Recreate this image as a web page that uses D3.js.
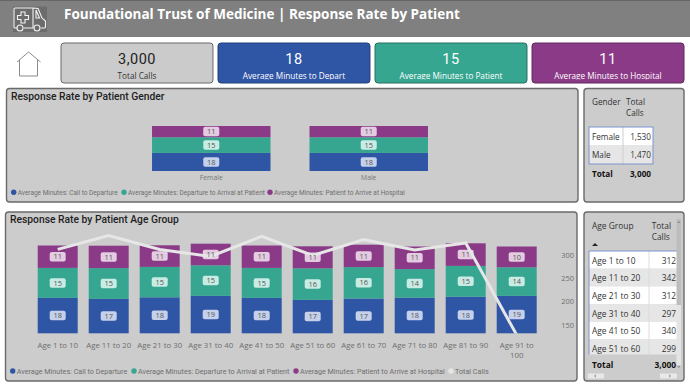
<!DOCTYPE html>
<html>
<head>
<meta charset="utf-8">
<script src="https://cdn.jsdelivr.net/npm/d3@7"></script>
<style>
    body { margin: 0; background: #fff; }
    text { font-family: "Open Sans", sans-serif; }
    .din { font-family: Roboto, sans-serif; }
</style>
</head>
<body>
<svg id="chart" width="690" height="388"></svg>
<script>
// card values
const cardValues = ["3,000", "18", "15", "11"];
const cardLabels = ["Total Calls", "Average Minutes to Depart", "Average Minutes to Patient", "Average Minutes to Hospital"];

// gender chart
const genders = ["Female", "Male"];
const genderCall = [17.7, 17.7];
const genderDeparture = [15.4, 15.4];
const genderPatient = [11, 11];
const genderCalls = ["1,530", "1,470"];

// age chart
const ageGroups = ["Age 1 to 10", "Age 11 to 20", "Age 21 to 30", "Age 31 to 40", "Age 41 to 50",
    "Age 51 to 60", "Age 61 to 70", "Age 71 to 80", "Age 81 to 90", "Age 91 to 100"];
const ageCall = [17.7, 17.2, 18, 18.7, 17.7, 16.7, 17.4, 17.8, 18.3, 18.7];
const ageDeparture = [15, 15.4, 15.2, 15.3, 15, 15.8, 15.7, 14.3, 15.4, 14.3];
const agePatient = [11.2, 11.2, 10.8, 10.8, 11.2, 11, 11.2, 11.3, 11.3, 10.4];
const ageTotalCalls = [312, 342, 312, 297, 340, 299, 333, 311, 326, 128];
const rightTicks = [150, 200, 250, 300];

const seriesNames = ["Average Minutes: Call to Departure", "Average Minutes: Departure to Arrival at Patient",
    "Average Minutes: Patient to Arrive at Hospital"];
const seriesColors = ["#2f55a5", "#36a690", "#8b3a87"];
const labelColors = ["#c5d0ea", "#c8ece3", "#e3cbe1"];

const svg = d3.select("#chart");

function panel(x, y, w, h) {
    svg.append("rect")
        .attr("x", x).attr("y", y).attr("width", w).attr("height", h).attr("rx", 3)
        .attr("fill", "#cccccc").attr("stroke", "#6a6a6a").attr("stroke-width", 1.4);
}

function drawHeader() {
    svg.append("rect").attr("width", 690).attr("height", 37).attr("fill", "#808080");
    svg.append("rect").attr("width", 690).attr("height", 1).attr("fill", "#666");

    svg.append("text")
        .attr("x", 64).attr("y", 19)
        .attr("fill", "#fff").attr("font-size", 13.5).attr("font-weight", 700)
        .text("Foundational Trust of Medicine | Response Rate by Patient");

    // ambulance icon
    const icon = svg.append("g").attr("fill", "none").attr("stroke", "#f2f2f2").attr("stroke-width", 1.1);
    svg.insert("rect", "g").attr("x", 13).attr("y", 6.5).attr("width", 34).attr("height", 25.5).attr("fill", "#6c6c6c");
    icon.append("path").attr("d", "M17 28H15Q14 28 14 27V9Q14 8 15 8H33L38 8.5L42 18L45.5 21V27Q45.5 28 44 28H41M33 8V28M24 28H33.5");
    icon.append("path").attr("d", "M36 10L39.5 18H36Z");
    icon.append("circle").attr("cx", 20).attr("cy", 28).attr("r", 3);
    icon.append("circle").attr("cx", 37).attr("cy", 28).attr("r", 3);
    icon.append("path").attr("d", "M21 12H25V15.5H28.5V19.5H25V23H21V19.5H17.5V15.5H21Z");

    // home button
    svg.append("path")
        .attr("d", "M17 62L28.5 52L40.5 62M19.5 60V76H37.5V60")
        .attr("fill", "#fff").attr("stroke", "#8a8a8a").attr("stroke-width", 1);
}

function drawCards() {
    const x = d3.scaleBand().domain(d3.range(4)).range([61, 684]).paddingInner(0.032);
    const fills = ["#cbcbcb", ...seriesColors];
    const strokes = ["#6a6a6a", "#24417e", "#27705f", "#5f2a5c"];
    const inks = ["#222", "#fff", "#fff", "#fff"];
    const defs = svg.append("defs");
    defs.append("clipPath").attr("id", "card-clip")
        .append("rect").attr("x", 0).attr("y", 43).attr("width", 690).attr("height", 36.5);

    cardValues.forEach((value, i) => {
        svg.append("rect")
            .attr("x", x(i)).attr("y", 43).attr("width", x.bandwidth()).attr("height", 40).attr("rx", 3)
            .attr("fill", fills[i]).attr("stroke", strokes[i]);
        svg.append("text").attr("class", "din")
            .attr("x", x(i) + x.bandwidth() / 2).attr("y", 64)
            .attr("text-anchor", "middle").attr("font-size", 14.5).attr("fill", inks[i])
            .attr("letter-spacing", 0.5).text(value);
        svg.append("text")
            .attr("x", x(i) + x.bandwidth() / 2).attr("y", 79)
            .attr("clip-path", "url(#card-clip)")
            .attr("text-anchor", "middle").attr("font-size", 8.2).attr("fill", i ? "#fff" : "#333")
            .text(cardLabels[i]);
    });
}

// puts one rounded label box on a segment
function drawBarLabels(layer, rows, x, y, boxH) {
    const boxW = 16;
    layer.selectAll("rect.lab").data(rows).enter().append("rect").attr("class", "lab")
        .attr("x", d => x(d.name) + x.bandwidth() / 2 - boxW / 2)
        .attr("y", d => y((d.y0 + d.y1) / 2) - boxH / 2)
        .attr("width", boxW).attr("height", boxH).attr("rx", 2)
        .attr("fill", d => labelColors[d.series]);
}

function drawBarLabelText(layer, rows, x, y) {
    layer.selectAll("text.lab").data(rows).enter().append("text").attr("class", "lab")
        .attr("x", d => x(d.name) + x.bandwidth() / 2)
        .attr("y", d => y((d.y0 + d.y1) / 2) + 2.6)
        .attr("text-anchor", "middle").attr("font-size", 7.4).attr("fill", "#555")
        .text(d => d3.format(".0f")(d.y1 - d.y0));
}

function stackRows(names, a, b, c) {
    const table = names.map((name, i) => ({ name, s0: a[i], s1: b[i], s2: c[i] }));
    const stacked = d3.stack().keys(["s0", "s1", "s2"])(table);
    return stacked.flatMap((layer, s) => layer.map(d => ({ name: d.data.name, series: s, y0: d[0], y1: d[1] })));
}

function drawLegend(items, colors, positions, y, size) {
    items.forEach((name, i) => {
        svg.append("circle").attr("cx", positions[i]).attr("cy", y).attr("r", 2.7).attr("fill", colors[i]);
        svg.append("text").attr("class", "din").attr("x", positions[i] + 4).attr("y", y + 2.5)
            .attr("font-size", size).attr("fill", "#6e6e6e").text(name);
    });
}

function drawGenderChart() {
    panel(6.5, 88.5, 571.5, 113.5);
    svg.append("text").attr("class", "din").attr("x", 11).attr("y", 99.5)
        .attr("font-size", 10.3).attr("font-weight", 500).attr("fill", "#222")
        .text("Response Rate by Patient Gender");

    const x = d3.scaleBand().domain(genders).range([132.5, 447.5]).paddingInner(0.2476).paddingOuter(0.124);
    const y = d3.scaleLinear().domain([0, 44.1]).range([171, 126]);
    const rows = stackRows(genders, genderCall, genderDeparture, genderPatient);

    svg.append("g").selectAll("rect").data(rows).enter().append("rect")
        .attr("x", d => x(d.name)).attr("y", d => y(d.y1))
        .attr("width", x.bandwidth()).attr("height", d => y(d.y0) - y(d.y1))
        .attr("fill", d => seriesColors[d.series]);

    const labels = svg.append("g");
    drawBarLabels(labels, rows, x, y, 9.5);
    drawBarLabelText(labels, rows, x, y);

    const axis = svg.append("g").attr("transform", "translate(0,171)")
        .call(d3.axisBottom(x).tickSize(0).tickPadding(4));
    axis.select(".domain").remove();
    axis.selectAll("text").attr("font-size", 6.8).attr("fill", "#777").style("font-family", "'Open Sans'");

    drawLegend(seriesNames, seriesColors, [13.7, 124, 270], 192.3, 6.5);
}

function drawAgeChart() {
    panel(5.5, 212, 571.5, 169);
    svg.append("text").attr("class", "din").attr("x", 10).attr("y", 223)
        .attr("font-size", 10.3).attr("font-weight", 500).attr("fill", "#222")
        .text("Response Rate by Patient Age Group");

    const x = d3.scaleBand().domain(ageGroups).range([32.2, 542.2]).paddingInner(0.216).paddingOuter(0.108);
    const y = d3.scaleLinear().domain([0, 44]).range([333.3, 245.3]);
    const yRight = d3.scaleLinear().domain([150, 300]).range([324.7, 255]);
    const rows = stackRows(ageGroups, ageCall, ageDeparture, agePatient);

    svg.append("g").selectAll("rect").data(rows).enter().append("rect")
        .attr("x", d => x(d.name)).attr("y", d => y(d.y1))
        .attr("width", x.bandwidth()).attr("height", d => y(d.y0) - y(d.y1))
        .attr("fill", d => seriesColors[d.series]);

    const labels = svg.append("g");
    drawBarLabels(labels, rows, x, y, 9.5);

    // line is cut at the bottom of the plot
    svg.select("defs").append("clipPath").attr("id", "plot-clip")
        .append("rect").attr("x", 0).attr("y", 200).attr("width", 690).attr("height", 133.5);
    const line = d3.line().x((d, i) => x(ageGroups[i]) + x.bandwidth() / 2).y(d => yRight(d));
    svg.append("path").datum(ageTotalCalls)
        .attr("clip-path", "url(#plot-clip)")
        .attr("d", line).attr("fill", "none").attr("stroke", "#e6e6e6").attr("stroke-width", 3);

    drawBarLabelText(svg.append("g"), rows, x, y);

    const axis = svg.append("g").attr("transform", "translate(0,333.3)")
        .call(d3.axisBottom(x).tickSize(0).tickPadding(9));
    axis.select(".domain").remove();
    axis.selectAll("text").attr("font-size", 7.8).attr("fill", "#6e6e6e").style("font-family", "'Open Sans'");
    // last label wraps to two lines
    axis.selectAll("text").filter(d => d === "Age 91 to 100").each(function() {
        const t = d3.select(this).text("");
        t.append("tspan").attr("x", 0).text("Age 91 to");
        t.append("tspan").attr("x", 0).attr("dy", 10).text("100");
    });

    const right = svg.append("g").attr("transform", "translate(574,0)")
        .call(d3.axisLeft(yRight).tickValues(rightTicks).tickSize(0).tickPadding(0));
    right.select(".domain").remove();
    right.selectAll("text").attr("font-size", 7.4).attr("fill", "#6e6e6e").style("font-family", "'Open Sans'");

    drawLegend([...seriesNames, "Total Calls"], [...seriesColors, "#e6e6e6"], [12.7, 134, 296, 451], 371, 7.2);
}

function drawGenderTable() {
    panel(584, 88.5, 100, 113.5);
    const g = svg.append("g").attr("font-size", 8.2).attr("fill", "#333");
    g.append("text").attr("x", 592).attr("y", 105).text("Gender");
    g.append("text").attr("x", 626).attr("y", 105).text("Total");
    g.append("text").attr("x", 626).attr("y", 116).text("Calls");

    const y = d3.scaleBand().domain(genders).range([127, 164]);
    genders.forEach((name, i) => {
        g.append("rect").attr("x", 589).attr("y", y(name)).attr("width", 64).attr("height", y.bandwidth())
            .attr("fill", i % 2 ? "#e6e6e6" : "#fff");
        g.append("text").attr("x", 592).attr("y", y(name) + 12.5).text(name);
        g.append("text").attr("x", 651).attr("y", y(name) + 12.5).attr("text-anchor", "end").text(genderCalls[i]);
    });
    g.append("line").attr("x1", 623).attr("x2", 623).attr("y1", 127).attr("y2", 164).attr("stroke", "#cfcfcf");
    g.append("rect").attr("x", 589).attr("y", 127).attr("width", 64).attr("height", 37)
        .attr("fill", "none").attr("stroke", "#7b96cf");
    g.append("text").attr("x", 592).attr("y", 177).attr("font-weight", 700).attr("fill", "#111").text("Total");
    g.append("text").attr("x", 651).attr("y", 177).attr("font-weight", 700).attr("fill", "#111")
        .attr("text-anchor", "end").text(cardValues[0]);
}

function drawAgeTable() {
    panel(584, 212, 100, 169);
    const g = svg.append("g").attr("font-size", 8.4).attr("fill", "#333");
    g.append("text").attr("x", 592).attr("y", 229).text("Age Group");
    g.append("text").attr("x", 651.7).attr("y", 229).text("Total");
    g.append("text").attr("x", 651.7).attr("y", 240).text("Calls");
    g.append("path").attr("d", "M592 246L595 243L598 246Z").attr("fill", "#222");

    svg.select("defs").append("clipPath").attr("id", "table-clip")
        .append("rect").attr("x", 589).attr("y", 251).attr("width", 88).attr("height", 103.5);
    const body = g.append("g").attr("clip-path", "url(#table-clip)");
    const y = d3.scaleBand().domain(ageGroups).range([251, 251 + 17.7 * ageGroups.length]);
    // only the first six rows are visible before the table scrolls
    ageGroups.slice(0, 6).forEach((name, i) => {
        body.append("rect").attr("x", 589).attr("y", y(name)).attr("width", 88).attr("height", y.bandwidth())
            .attr("fill", i % 2 ? "#e6e6e6" : "#fff");
        body.append("text").attr("x", 592).attr("y", y(name) + 12.5).text(name);
        body.append("text").attr("x", 676).attr("y", y(name) + 12.5).attr("text-anchor", "end").text(ageTotalCalls[i]);
    });
    body.append("line").attr("x1", 649).attr("x2", 649).attr("y1", 251).attr("y2", 354.5).attr("stroke", "#dcdcdc");
    g.append("path").attr("d", "M589 354.5V251H677").attr("fill", "none").attr("stroke", "#7b96cf");

    g.append("text").attr("x", 592).attr("y", 368).attr("font-weight", 700).attr("fill", "#111").text("Total");
    g.append("text").attr("x", 676).attr("y", 368).attr("font-weight", 700).attr("fill", "#111")
        .attr("text-anchor", "end").text(cardValues[0]);

    // scrollbars and their arrows
    g.append("rect").attr("x", 676.5).attr("y", 219).attr("width", 4.5).attr("height", 86).attr("fill", "#bdbdbd");
    g.append("rect").attr("x", 676.5).attr("y", 305).attr("width", 4.5).attr("height", 60).attr("fill", "#e4e4e4");
    g.append("rect").attr("x", 588).attr("y", 373.5).attr("width", 16).attr("height", 5).attr("fill", "#e8e8e8");
    g.append("rect").attr("x", 660).attr("y", 373.5).attr("width", 17).attr("height", 5).attr("fill", "#e8e8e8");
    g.append("path")
        .attr("d", "M677.5 223L678.7 221.5L680 223M677.5 366L678.7 367.5L680 366M596 374.8L594.5 376L596 377.2M669 374.8L670.5 376L669 377.2")
        .attr("fill", "none").attr("stroke", "#666").attr("stroke-width", 0.7);
}

drawHeader();
drawCards();
drawGenderChart();
drawAgeChart();
drawGenderTable();
drawAgeTable();
</script>
</body>
</html>
